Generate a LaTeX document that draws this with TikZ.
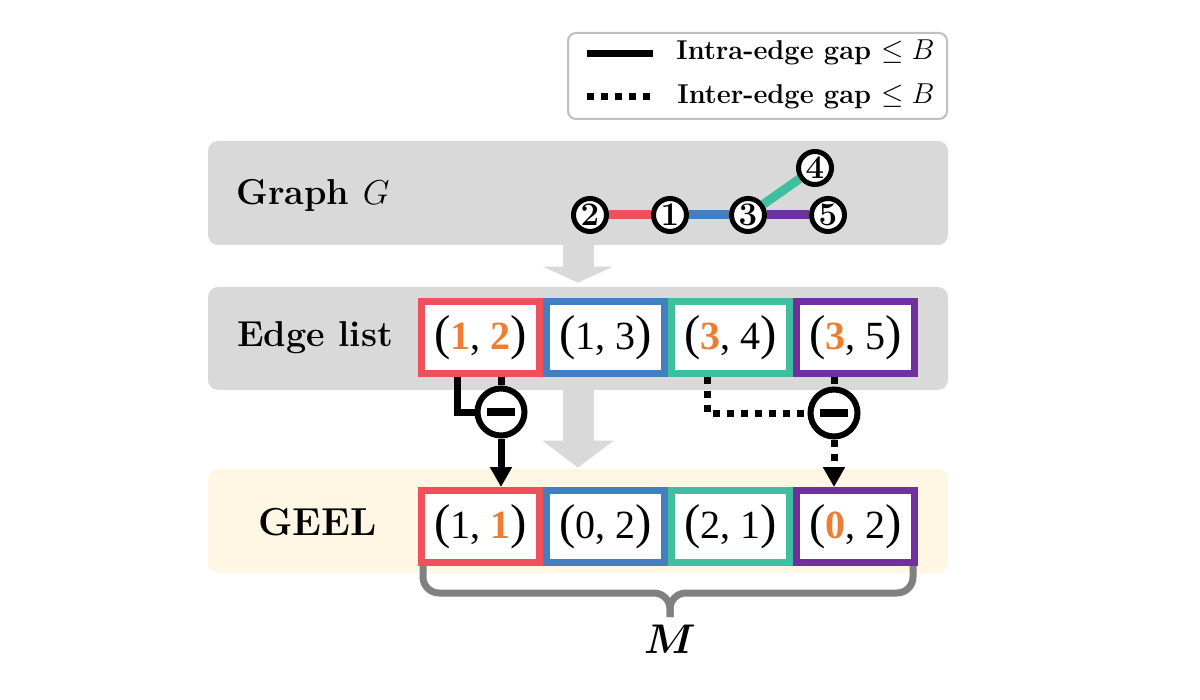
\documentclass[tikz,border=0pt]{standalone}
\usepackage{amsmath,amssymb}
\usepackage{fontspec}
\newfontfamily\pairfont{Liberation Serif}
\usepackage{tikz}
\usetikzlibrary{arrows.meta}
\usepackage{xcolor}
\definecolor{ColRed}{RGB}{239,80,91}
\definecolor{ColBlue}{RGB}{64,128,192}
\definecolor{ColTeal}{RGB}{64,191,160}
\definecolor{ColPurple}{RGB}{112,48,160}
\definecolor{ColOrange}{RGB}{237,125,49}
\definecolor{ColPanel}{RGB}{217,217,217}
\definecolor{ColCream}{RGB}{255,246,227}
\definecolor{ColBrace}{RGB}{128,128,128}
\definecolor{ColLegend}{RGB}{191,191,191}
\tikzstyle{Panel}=[rectangle,rounded corners=5pt,minimum width=370pt,minimum height=52pt,
inner sep=0pt]
\tikzstyle{PanelLabel}=[inner sep=0pt,font=\fontsize{18}{18}\selectfont\bfseries]
\tikzstyle{LegendLabel}=[anchor=base east,inner sep=0pt,font=\fontsize{13.6}{13.6}\selectfont\bfseries]
\tikzstyle{PairBox}=[rectangle,draw,line width=3.5pt,fill=white,minimum width=59pt,
minimum height=36pt,inner sep=0pt,outer sep=1.75pt]
\tikzstyle{NodeGraph}=[circle,draw,line width=2.5pt,fill=white,inner sep=0pt,minimum size=16.5pt,
font=\fontsize{16.5}{16.5}\selectfont\bfseries]
\tikzstyle{EdgeGraph}=[line width=4.5pt]
\tikzstyle{MinusNode}=[circle,draw,line width=3pt,fill=white,inner sep=0pt,minimum size=23.5pt]
\tikzstyle{IntraLine}=[line width=3.5pt]
\tikzstyle{InterLine}=[line width=3.5pt,dash pattern=on 3.5pt off 3.5pt]
\tikzstyle{BigArrow}=[ColPanel,line width=15.5pt]
\tikzstyle{BraceLine}=[ColBrace,line width=3.5pt,rounded corners=8pt]
\newcommand{\Pair}[2]{\raisebox{-3.5pt}{\pairfont\fontsize{20}{20}\selectfont
{\fontsize{24.5}{24.5}\selectfont(}#1, #2{\fontsize{24.5}{24.5}\selectfont)}}}
\newcommand{\Hi}[1]{\textcolor{ColOrange}{\textbf{#1}}}

\begin{document}
\begin{tikzpicture}[x=0.5pt,y=-0.5pt]
        \useasboundingbox(0,0)rectangle(1200,700);
        % legend
        \node[draw=ColLegend,line width=1pt,rounded corners=4pt,minimum width=189.5pt,
        minimum height=43pt](leg)at(757.5,76){};
        \coordinate(la1)at(587,54);
        \coordinate(lb1)at(653,54);
        \coordinate(la2)at(587,97);
        \coordinate(lb2)at(650,97);
        \draw[IntraLine](la1)--(lb1);
        \draw[InterLine](la2)--(lb2);
        \node[LegendLabel](lt1)at(935,60){Intra-edge gap $\leq B$};
        \node[LegendLabel](lt2)at(935,104){Inter-edge gap $\leq B$};
        % panels
        \node[Panel,fill=ColPanel](pG)at(578,193){};
        \node[Panel,fill=ColPanel,minimum height=51.5pt](pE)at(578,338.5){};
        \node[Panel,fill=ColCream](pL)at(578,521){};
        \draw[BigArrow,-{Triangle[width=35pt,length=8pt]},shorten >=2pt](pG.south)--(pE.north);
        \draw[BigArrow,-{Triangle[width=35pt,length=13.5pt]},shorten >=0.5pt](pE.south)--(pL.north);
        \node[PanelLabel,anchor=base west](lG)at(236,205){Graph $G$};
        \node[PanelLabel,anchor=base west](lE)at(237,347){Edge list};
        \node[PanelLabel,font=\fontsize{19.5}{19.5}\selectfont\bfseries,anchor=base](lL)
        at(317.5,535){GEEL};
        % graph
        \node[NodeGraph](n2)at(590,215){2};
        \node[NodeGraph](n1)at(670,215){1};
        \node[NodeGraph](n3)at(748,215){3};
        \node[NodeGraph](n4)at(815,168){4};
        \node[NodeGraph](n5)at(828,215){5};
        \draw[EdgeGraph,ColRed](n2)--(n1);
        \draw[EdgeGraph,ColBlue](n1)--(n3);
        \draw[EdgeGraph,ColTeal](n3)--(n4);
        \draw[EdgeGraph,ColPurple](n3)--(n5);
        % edge list and GEEL
        \node[PairBox,draw=ColRed](e1)at(480.5,337.5){\Pair{\Hi{1}}{\Hi{2}}};
        \node[PairBox,draw=ColBlue](e2)at(605.5,337.5){\Pair{1}{3}};
        \node[PairBox,draw=ColTeal](e3)at(730.5,337.5){\Pair{\Hi{3}}{4}};
        \node[PairBox,draw=ColPurple](e4)at(855.5,337.5){\Pair{\Hi{3}}{5}};
        \node[PairBox,draw=ColRed](g1)at(480.5,526.5){\Pair{1}{\Hi{1}}};
        \node[PairBox,draw=ColBlue](g2)at(605.5,526.5){\Pair{0}{2}};
        \node[PairBox,draw=ColTeal](g3)at(730.5,526.5){\Pair{2}{1}};
        \node[PairBox,draw=ColPurple](g4)at(855.5,526.5){\Pair{\Hi{0}}{2}};
        % gaps
        \node[MinusNode](m1)at(501,412){\rule{14pt}{4pt}};
        \node[MinusNode](m2)at(834,413){\rule{14pt}{4pt}};
        \coordinate(c1)at(457,412);
        \coordinate(c2)at(707,413);
        \draw[IntraLine](e1.south -| c1)--(c1)--(m1.west);
        \draw[IntraLine](e1.south -| m1)--(m1.north);
        \draw[IntraLine,-{Triangle[width=10.5pt,length=10pt]}](m1.south)--(g1.north -| m1);
        \draw[InterLine](e3.south -| c2)--(c2)--(m2.west);
        \draw[InterLine](e4.south -| m2)--(m2.north);
        \draw[InterLine,-{Triangle[width=10.5pt,length=10pt]}](m2.south)--(g4.north -| m2);
        % brace
        \coordinate(bm)at(670,593);
        \coordinate(bt)at(670,617);
        \draw[BraceLine]([xshift=2.5pt]g1.south west)|-(bm)--(bt);
        \draw[BraceLine]([xshift=-2.5pt]g4.south east)|-(bm)--(bt);
        \node[inner sep=0pt,font=\fontsize{20.5}{20.5}\selectfont](lM)at(670,639){$\boldsymbol{M}$};
    \end{tikzpicture}
\end{document}
